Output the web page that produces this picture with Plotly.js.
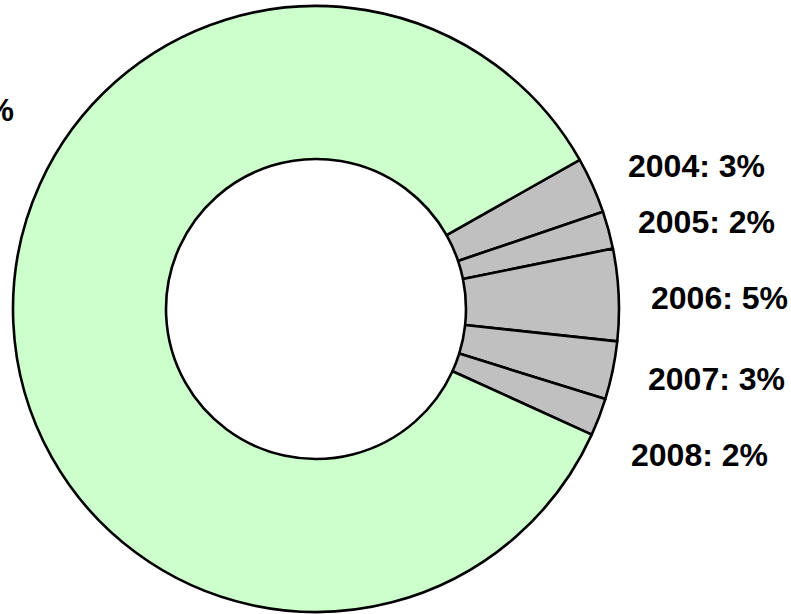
<!DOCTYPE html>
<html>
<head>
<meta charset="utf-8">
<script src="https://cdn.plot.ly/plotly-3.0.1.min.js"></script>
<style>html,body{margin:0;padding:0;background:#fff;}#chart{width:791px;height:614px;}</style>
</head>
<body>
<div id="chart"></div>
<script>
// Data
const categories = ["2004", "2005", "2006", "2007", "2008", "Other"];
const values = [3.0, 2.0, 4.9, 3.1, 2.0, 85.0];
const percentLabels = ["3%", "2%", "5%", "3%", "2%", "85%"];

// Styling / layout (not data)
const colors = ["#C0C0C0", "#C0C0C0", "#C0C0C0", "#C0C0C0", "#C0C0C0", "#CCFFCC"];
const W = 791, H = 614;
const labelPos = [
  {px: 626, py: 166, anchor: "left"},
  {px: 636, py: 222, anchor: "left"},
  {px: 649, py: 298, anchor: "left"},
  {px: 646, py: 379, anchor: "left"},
  {px: 629, py: 455, anchor: "left"},
  {px: 16, py: 110, anchor: "right"}
];

const trace = {
  type: "pie",
  labels: categories,
  values: values,
  hole: 0.495,
  sort: false,
  direction: "clockwise",
  rotation: 60.5,
  textinfo: "none",
  hoverinfo: "label+percent",
  marker: {colors: colors, line: {color: "#000000", width: 2.6}},
  domain: {x: [(316 - 303) / W, (316 + 303) / W], y: [1 - 612 / H, 1 - 6 / H]},
  showlegend: false
};

const annotations = categories.map((c, i) => ({
  text: "<b>" + c + ": " + percentLabels[i] + "</b>",
  xref: "paper", yref: "paper",
  x: labelPos[i].px / W, y: 1 - labelPos[i].py / H,
  xanchor: labelPos[i].anchor, yanchor: "middle",
  showarrow: false,
  font: {family: "Liberation Sans, Arial, sans-serif", size: 32, color: "#000"}
}));

const layout = {
  width: W, height: H,
  margin: {l: 0, r: 0, t: 0, b: 0},
  paper_bgcolor: "#ffffff",
  plot_bgcolor: "#ffffff",
  annotations: annotations,
  showlegend: false
};

Plotly.newPlot("chart", [trace], layout, {staticPlot: true, displayModeBar: false});
</script>
</body>
</html>
